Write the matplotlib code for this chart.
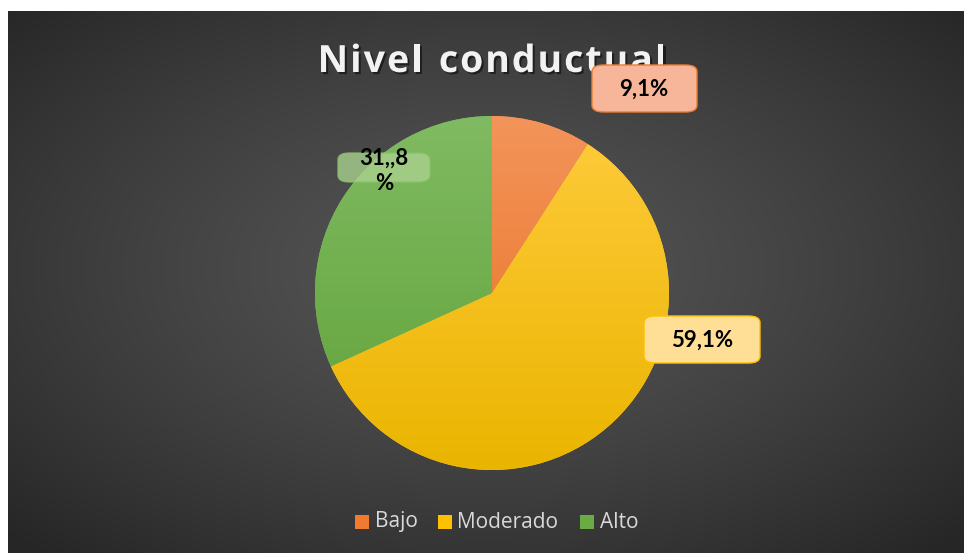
import numpy as np
import matplotlib.pyplot as plt
import matplotlib.patheffects as pe
from matplotlib.patches import FancyBboxPatch, Rectangle
from matplotlib.colors import LinearSegmentedColormap

categories = ["Bajo", "Moderado", "Alto"]
values = [9.1, 59.1, 31.8]
label_texts = ["9,1%", "59,1%", "31,,8\n%"]
top_colors = ["#F3945A", "#FFCB3C", "#80BA62"]
bottom_colors = ["#E86E20", "#EAB500", "#60A238"]
legend_colors = ["#F07A30", "#FFC000", "#6AAB45"]
title = "Nivel conductual"

W, H = 964, 553


def fx(px):
    return px / W


def fy(py):
    return 1 - py / H


fig = plt.figure(figsize=(W / 100, H / 100), dpi=100)
fig.patch.set_facecolor("white")

# background with radial gradient
bg = fig.add_axes([fx(8), 0, fx(W - 8), 1 - 11 / H])
bg.set_axis_off()
xx, yy = np.meshgrid(np.linspace(-1, 1, 400), np.linspace(-1, 1, 240))
d = np.sqrt(xx ** 2 + (yy + 0.05) ** 2) / np.sqrt(2)
t = np.clip(d, 0, 1) ** 1.3
c0, c1 = 0x55 / 255, 0x26 / 255
img = c0 + (c1 - c0) * t
bg.imshow(np.dstack([img, img, img]), aspect="auto", extent=[0, 1, 0, 1])
bg.set_xlim(0, 1)
bg.set_ylim(0, 1)

# pie
r = 177
cx, cy = 492, 293
ax = fig.add_axes([fx(cx - r), fy(cy + r), fx(2 * r), 2 * r / H])
ax.set_axis_off()
wedges, _ = ax.pie(values, startangle=90, counterclock=False,
                   colors=top_colors, radius=1,
                   wedgeprops=dict(linewidth=0))
grad = np.linspace(1, 0, 200).reshape(-1, 1)
for w, ct, cb in zip(wedges, top_colors, bottom_colors):
    cmap = LinearSegmentedColormap.from_list("g", [cb, ct])
    im = ax.imshow(grad, cmap=cmap, extent=[-1, 1, -1, 1], aspect="auto",
                   vmin=0, vmax=1, zorder=w.get_zorder() + 0.1)
    im.set_clip_path(w)
ax.set_xlim(-1, 1)
ax.set_ylim(-1, 1)

# title, drawn letter by letter for the wide spacing
shadow = [pe.withSimplePatchShadow(offset=(1.5, -1.5),
                                   shadow_rgbFace="black", alpha=0.5)]
renderer = fig.canvas.get_renderer()
title_kw = dict(fontsize=27, fontweight="bold", color="#F2F2F2",
                family="Open Sans", va="baseline", ha="left", zorder=3)
spacing = 2.0
widths = []
for ch in title:
    tt = fig.text(0, 0, ch if ch != " " else "n", **title_kw)
    bb = tt.get_window_extent(renderer)
    widths.append(bb.width * (0.5 if ch == " " else 1.0))
    tt.remove()
total = sum(widths) + spacing * (len(title) - 1)
xpos = 492 - total / 2
for ch, wd in zip(title, widths):
    if ch != " ":
        fig.text(fx(xpos), fy(72), ch, path_effects=shadow, **title_kw)
    xpos += wd + spacing

# data labels
boxes = [
    (592, 65, 105, 47, "#F7B699", "#ED7D31", 1.0),
    (644, 316, 116, 47, "#FFDF95", "#FFC000", 1.0),
    (338, 153, 92, 29, "#A9D18E", "#8BC16A", 0.8),
]
for (bx, by, bw, bh, fc, ec, al) in boxes:
    fig.patches.append(FancyBboxPatch(
        (fx(bx), fy(by + bh)), fx(bw), bh / H,
        boxstyle="round,pad=0,rounding_size=0.012",
        facecolor=fc, edgecolor=ec, linewidth=1.0, alpha=al, zorder=5,
        transform=fig.transFigure, figure=fig))

label_pos = [(644, 89), (702, 340), (384, 171)]
for (px, py), txt in zip(label_pos, label_texts):
    fig.text(fx(px), fy(py), txt, ha="center", va="center", fontsize=16,
             fontweight="bold", color="black", family="Lato",
             linespacing=1.25, zorder=6)

# legend
leg = [(355, 375), (438, 457), (580, 600)]
for (mx, tx), name, col in zip(leg, categories, legend_colors):
    fig.patches.append(Rectangle((fx(mx), fy(529)), fx(14), 14 / H,
                                 facecolor=col, edgecolor="none",
                                 transform=fig.transFigure, figure=fig))
    fig.text(fx(tx), fy(522), name, ha="left", va="center", fontsize=15,
             color="#D9D9D9", family="Open Sans")

fig.savefig("out.png", dpi=100)
